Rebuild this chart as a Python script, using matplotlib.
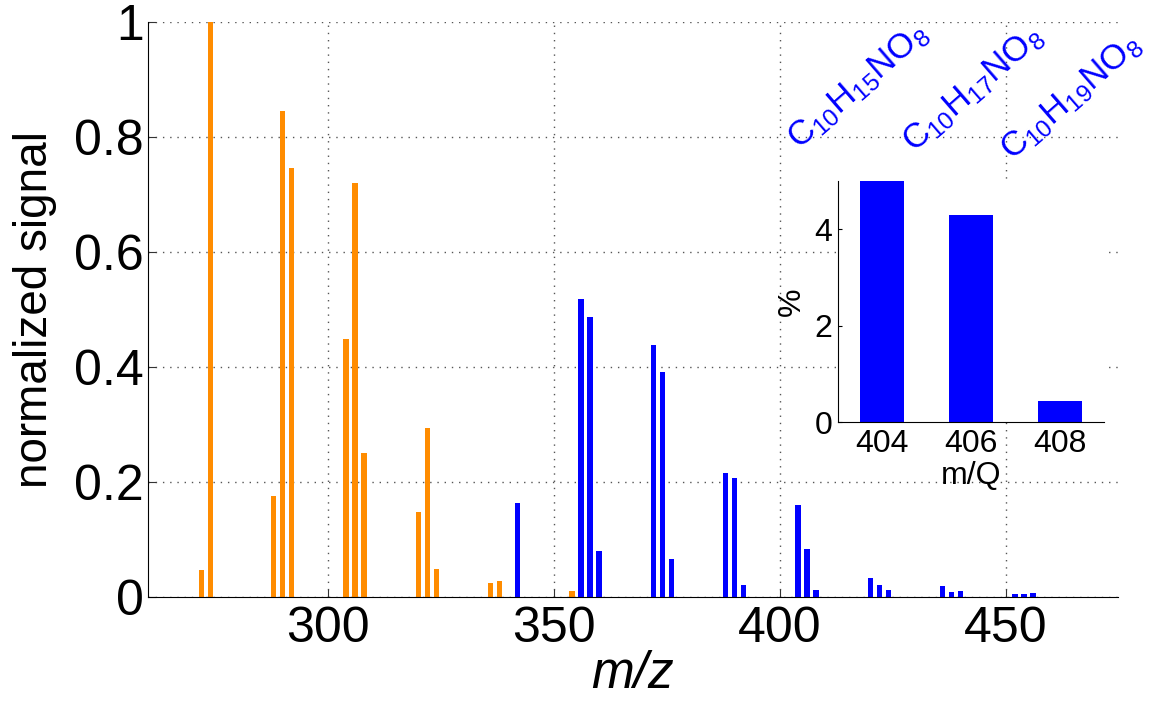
import matplotlib
matplotlib.use("Agg")
import matplotlib.pyplot as plt

# main spectrum: orange = fragment series, blue = nitrate series
orange_mz = [272, 274, 288, 290, 292, 304, 306, 308, 320, 322, 324, 336, 338, 354]
orange_sig = [0.047, 1.0, 0.176, 0.845, 0.746, 0.448, 0.719, 0.250,
              0.149, 0.294, 0.049, 0.024, 0.028, 0.011]
blue_mz = [342, 356, 358, 360, 372, 374, 376, 388, 390, 392, 404, 406, 408,
           420, 422, 424, 436, 438, 440, 452, 454, 456]
blue_sig = [0.164, 0.518, 0.487, 0.081, 0.439, 0.392, 0.067, 0.216, 0.207,
            0.021, 0.160, 0.084, 0.012, 0.034, 0.021, 0.012, 0.020, 0.010,
            0.011, 0.006, 0.005, 0.008]

# inset: relative contribution (%)
inset_mq = [404, 406, 408]
inset_pct = [5.0, 4.3, 0.44]
formulas = [r"C$_{10}$H$_{15}$NO$_{8}$", r"C$_{10}$H$_{17}$NO$_{8}$",
            r"C$_{10}$H$_{19}$NO$_{8}$"]

plt.rcParams["font.family"] = ["Liberation Sans", "DejaVu Sans"]
plt.rcParams["mathtext.fontset"] = "custom"
plt.rcParams["mathtext.rm"] = "Liberation Sans"
plt.rcParams["mathtext.it"] = "Liberation Sans:italic"

W, H = 1153, 702
fig = plt.figure(figsize=(W / 100, H / 100), dpi=100)

ax = fig.add_axes([148 / W, 1 - 597.3 / H, (1118 - 148) / W, (597.3 - 21.7) / H])
ax.bar(orange_mz, orange_sig, width=1.2, color="#ff8c00", zorder=2)
ax.bar(blue_mz, blue_sig, width=1.2, color="#0000ff", zorder=2)
ax.set_xlim(260.2, 474.8)
ax.set_ylim(0, 1)
ax.set_xticks([300, 350, 400, 450])
ax.set_yticks([0, 0.2, 0.4, 0.6, 0.8, 1.0])
ax.set_yticklabels(["0", "0.2", "0.4", "0.6", "0.8", "1"])
ax.grid(True, color="#555555", linestyle=(0, (1, 4.2)), linewidth=1.0, zorder=0)
ax.set_axisbelow(True)
for s in ("top", "right"):
    ax.spines[s].set_visible(False)
ax.tick_params(direction="in", length=6, width=0.8, labelsize=36, color="#333333")
ax.tick_params(axis="x", pad=6)
ax.tick_params(axis="y", pad=3)
ax.set_xlabel("m/z", fontsize=37, style="italic")
ax.xaxis.set_label_coords(0.5, -0.092)
ax.set_ylabel("normalized signal", fontsize=33)
ax.yaxis.set_label_coords(-0.094, 0.5)

# inset
ins = fig.add_axes([837.7 / W, 1 - 422.3 / H, (1104.3 - 837.7) / W, (422.3 - 180.7) / H])
ins.set_facecolor("white")
ins.bar(inset_mq, inset_pct, width=1.0, color="#0000ff")
ins.set_xlim(403, 409)
ins.set_ylim(0, 5)
ins.set_xticks(inset_mq)
ins.set_yticks([0, 2, 4])
for s in ("top", "right"):
    ins.spines[s].set_visible(False)
ins.tick_params(direction="in", length=3, labelsize=23)
ins.tick_params(axis="x", pad=5, length=0)
ins.tick_params(axis="y", pad=4)
ins.set_ylabel("%", fontsize=23)
ins.yaxis.set_label_coords(-0.115, 0.5)
ins.set_xlabel("m/Q", fontsize=23)
ins.xaxis.set_label_coords(0.5, -0.16)

# rotated formula labels above the inset
anchors = [(799, 150), (914, 153), (1012, 161)]
for (px, py), f in zip(anchors, formulas):
    fig.text(px / W, 1 - py / H, f, fontsize=25, color="#0000ff", rotation=41,
             rotation_mode="anchor", ha="left", va="baseline")

fig.savefig("out.png", dpi=100)
